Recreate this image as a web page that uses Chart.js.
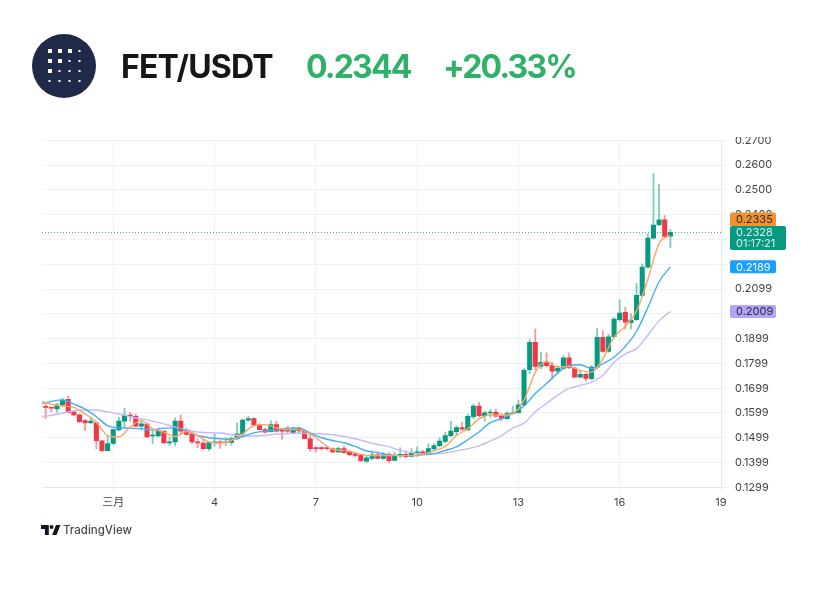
<!DOCTYPE html>
<html>
<head>
<meta charset="utf-8">
<title>FET/USDT</title>
<script src="https://cdn.jsdelivr.net/npm/chart.js@4/dist/chart.umd.min.js"></script>
<style>
  html, body { margin: 0; padding: 0; background: #fff; }
  body { position: relative; width: 832px; height: 608px; overflow: hidden; font-family: Inter, sans-serif; }
  canvas { position: absolute; left: 0; top: 0; }
  .head { position: absolute; top: 48px; line-height: 38px; font-size: 32px; font-weight: 700; white-space: nowrap; }
  .up { color: #2FB16A; letter-spacing: -1.8px; }
  #logo { position: absolute; left: 32px; top: 34px; }
  #tvMark { position: absolute; left: 41px; top: 525px; }
  #tvText { position: absolute; left: 63px; top: 522px; font-size: 11.5px; line-height: 16px; font-weight: 500; color: #4a4a4a; }
</style>
</head>
<body>
<canvas id="chart" width="832" height="608"></canvas>

<svg id="logo" width="64" height="64" viewBox="0 0 64 64">
  <circle cx="32" cy="32" r="32" fill="#1E2A47"/>
  <g fill="#fff">
    <rect x="16" y="15" width="4" height="4"/><rect x="26" y="15" width="4" height="4"/><rect x="36" y="15" width="4" height="4"/><rect x="46.5" y="16" width="2" height="2"/>
    <rect x="16" y="25" width="4" height="4"/><rect x="26" y="25" width="4" height="4"/><rect x="36.5" y="26" width="2" height="2"/><rect x="46.5" y="26" width="2" height="2"/>
    <rect x="16" y="35" width="4" height="4"/><rect x="26.5" y="36" width="2" height="2"/><rect x="36.5" y="36" width="2" height="2"/><rect x="46.5" y="36" width="2" height="2"/>
    <rect x="16.5" y="46" width="2" height="2"/><rect x="26.5" y="46" width="2" height="2"/><rect x="36.5" y="46" width="2" height="2"/><rect x="46.5" y="46" width="2" height="2"/>
  </g>
</svg>
<div class="head" style="left:121px;color:#161616;letter-spacing:-0.8px">FET/USDT</div>
<div class="head up" style="left:306px">0.2344</div>
<div class="head up" style="left:443px">+20.33%</div>

<svg id="tvMark" width="20" height="10" viewBox="0 0 36 18">
  <path fill="#131722" d="M14 18H7V7H0V0h14zM28 18h-8L27 0h8zM19 7a3.5 3.5 0 1 0 0-7 3.5 3.5 0 0 0 0 7z"/>
</svg>
<div id="tvText">TradingView</div>

<script>
// 4h candles, index 0 sits on the "三月" gridline
const firstCandle = -12;
const opens = [
  .1626,.1622,.1615,.1632,.1654,.1603,.1592,.1568,.1559,.1559,
  .1487,.1447,.1476,.1531,.1566,.1591,.1586,.1546,.1554,.1506,
  .1506,.1526,.1478,.1482,.1566,.1526,.1515,.1483,.1478,.1455,
  .1479,.1480,.1479,.1480,.1495,.1515,.1570,.1576,.1550,.1532,
  .1524,.1552,.1527,.1527,.1520,.1536,.1527,.1495,.1458,.1456,
  .1456,.1454,.1442,.1455,.1442,.1434,.1428,.1404,.1416,.1430,
  .1416,.1431,.1408,.1428,.1432,.1424,.1438,.1442,.1435,.1454,
  .1467,.1484,.1507,.1524,.1540,.1531,.1584,.1627,.1588,.1599,
  .1602,.1590,.1576,.1596,.1600,.1632,.1774,.1884,.1788,.1804,
  .1790,.1768,.1779,.1822,.1780,.1744,.1755,.1738,.1784,.1904,
  .1848,.1907,.1976,.2005,.1964,.1976,.2074,.2188,.2305,.2358,
  .2379,.2312
];
const highs = [
  .1635,.1624,.1638,.1659,.1667,.1608,.1595,.1572,.1579,.1562,
  .1488,.1508,.1535,.1582,.1619,.1602,.1595,.1571,.1558,.1528,
  .1538,.1528,.1502,.1578,.1592,.1538,.1522,.1495,.1488,.1484,
  .1515,.1488,.1499,.1502,.1559,.1575,.1586,.1579,.1555,.1539,
  .1568,.1566,.1535,.1544,.1542,.1542,.1531,.1515,.1462,.1462,
  .1462,.1458,.1462,.1464,.1448,.1438,.1432,.1424,.1446,.1442,
  .1439,.1439,.1442,.1458,.1446,.1455,.1462,.1448,.1475,.1475,
  .1499,.1522,.1566,.1548,.1562,.1595,.1635,.1642,.1608,.1615,
  .1615,.1598,.1604,.1627,.1651,.1778,.1895,.1938,.1844,.1842,
  .1804,.1790,.1831,.1842,.1784,.1768,.1760,.1791,.1940,.1931,
  .1918,.1984,.2056,.2027,.2000,.2123,.2201,.2322,.2566,.2522,
  .2396,.2341
];
const lows = [
  .1575,.1602,.1602,.1630,.1598,.1587,.1560,.1528,.1558,.1455,
  .1444,.1446,.1472,.1528,.1539,.1566,.1544,.1531,.1499,.1475,
  .1502,.1475,.1467,.1466,.1512,.1508,.1475,.1459,.1451,.1446,
  .1464,.1456,.1467,.1468,.1491,.1508,.1566,.1547,.1531,.1518,
  .1522,.1523,.1492,.1515,.1515,.1515,.1494,.1444,.1440,.1450,
  .1450,.1438,.1439,.1438,.1427,.1422,.1402,.1398,.1411,.1414,
  .1411,.1398,.1407,.1418,.1419,.1422,.1424,.1432,.1432,.1448,
  .1462,.1479,.1502,.1508,.1528,.1528,.1575,.1584,.1566,.1582,
  .1582,.1568,.1574,.1595,.1598,.1630,.1758,.1774,.1778,.1784,
  .1736,.1758,.1776,.1778,.1743,.1743,.1727,.1734,.1778,.1844,
  .1844,.1904,.1971,.1938,.1938,.1973,.2070,.2184,.2302,.2357,
  .2309,.2268
];
const closes = [
  .1622,.1618,.1632,.1651,.1600,.1591,.1564,.1559,.1566,.1487,
  .1447,.1476,.1532,.1566,.1591,.1586,.1546,.1555,.1502,.1507,
  .1526,.1478,.1483,.1566,.1526,.1512,.1482,.1478,.1455,.1480,
  .1482,.1479,.1483,.1496,.1515,.1570,.1576,.1550,.1532,.1522,
  .1552,.1526,.1526,.1526,.1535,.1527,.1495,.1455,.1455,.1455,
  .1455,.1442,.1455,.1439,.1431,.1428,.1407,.1418,.1430,.1416,
  .1430,.1407,.1428,.1430,.1423,.1439,.1440,.1436,.1455,.1467,
  .1486,.1508,.1526,.1540,.1534,.1586,.1627,.1588,.1600,.1602,
  .1586,.1576,.1598,.1600,.1632,.1771,.1884,.1787,.1804,.1790,
  .1768,.1779,.1822,.1782,.1744,.1755,.1739,.1784,.1904,.1848,
  .1907,.1978,.2002,.1966,.1974,.2074,.2188,.2305,.2358,.2379,
  .2312,.2328
];

// moving averages, read every second candle from index -13
const firstAvg = -13;
const avgOrange = [
  .1648,.1635,.1627,.1622,.1595,.1562,.1508,.1502,.1542,.1568,
  .1535,.1522,.1504,.1524,.1508,.1482,.1478,.1488,.1515,.1548,
  .1552,.1539,.1532,.1531,.1515,.1482,.1451,.1448,.1438,.1428,
  .1427,.1427,.1427,.1427,.1432,.1446,.1464,.1508,.1535,.1575,
  .1591,.1590,.1597,.1651,.1764,.1807,.1784,.1787,.1771,.1764,
  .1818,.1905,.1949,.2011,.2138,.2284,.2316
];
const avgBlue = [
  .1635,.1646,.1652,.1635,.1615,.1584,.1548,.1539,.1538,.1535,
  .1531,.1538,.1539,.1528,.1508,.1499,.1495,.1492,.1504,.1519,
  .1526,.1531,.1538,.1539,.1518,.1499,.1488,.1479,.1464,.1446,
  .1439,.1431,.1427,.1427,.1430,.1435,.1448,.1462,.1491,.1522,
  .1560,.1576,.1598,.1627,.1678,.1718,.1761,.1791,.1794,.1778,
  .1798,.1824,.1868,.1929,.2025,.2129,.2189
];
const avgPurple = [
  .1584,.1590,.1599,.1608,.1611,.1611,.1603,.1595,.1584,.1575,
  .1566,.1555,.1542,.1531,.1522,.1519,.1518,.1511,.1507,.1506,
  .1508,.1514,.1516,.1518,.1516,.1515,.1511,.1504,.1495,.1483,
  .1472,.1463,.1448,.1439,.1434,.1434,.1438,.1446,.1455,.1466,
  .1486,.1508,.1538,.1558,.1604,.1638,.1671,.1698,.1711,.1724,
  .1751,.1804,.1838,.1859,.1913,.1971,.2009
];

const xTickPos = [0, 18, 36, 54, 72, 90, 108];
const xTickLabels = ["三月", "4", "7", "10", "13", "16", "19"];
const yTicks = [.27, .26, .25, .24, .2299, .2199, .2099, .1999, .1899, .1799, .1699, .1599, .1499, .1399, .1299];
// these three sit fully behind the price tags
const yHidden = [.2299, .2199, .1999];
const lastPrice = 0.2328;
const countdown = "01:17:21";

const green = "#089981", red = "#F23645";
const candleCol = opens.map((o, i) => closes[i] >= o ? green : red);
const wickCol = opens.map((o, i) => closes[i] >= o ? "rgba(8,153,129,.5)" : "rgba(242,54,69,.5)");

function avgLine(values, color) {
  return {
    type: "line",
    data: values.map((v, i) => ({ x: firstAvg + i * 2, y: v })),
    borderColor: color,
    borderWidth: 1.4,
    pointRadius: 0,
    cubicInterpolationMode: "monotone",
    order: 1
  };
}

// price tags on the right axis, the orange one gets pushed up above the last price tag
const tagPlugin = {
  id: "tags",
  afterDraw(c) {
    const g = c.ctx, y = c.scales.y;
    g.save();
    // top of the axis is cut off in the widget
    g.fillStyle = "#fff";
    g.fillRect(725, 120, 70, 17);

    function tag(cy, w, h, bg, fg, text) {
      g.fillStyle = bg;
      g.beginPath();
      g.roundRect(730, cy - h / 2, w, h, 2);
      g.fill();
      g.fillStyle = fg;
      g.font = "11px Inter, sans-serif";
      g.textBaseline = "middle";
      g.fillText(text, 736, cy + 0.5);
    }
    const last = y.getPixelForValue(lastPrice);
    tag(y.getPixelForValue(.2189), 46, 13, "#189FFF", "#fff", "0.2189");
    tag(y.getPixelForValue(.2009), 46, 13, "#B4A3F6", "#2a2a3a", "0.2009");
    tag(last - 13, 46, 14, "#F2922E", "#2a2a2a", "0.2335");
    g.fillStyle = green;
    g.beginPath();
    g.roundRect(730, last - 6.5, 56, 24, 2);
    g.fill();
    g.fillStyle = "#D5F2EC";
    g.font = "11px Inter, sans-serif";
    g.textBaseline = "middle";
    g.fillText("0.2328", 736, last + 0.5);
    g.fillText(countdown, 736, last + 11.5);
    g.restore();
  }
};

new Chart(document.getElementById("chart"), {
  type: "bar",
  data: {
    datasets: [
      {
        data: opens.map((o, i) => ({ x: firstCandle + i, y: [lows[i], highs[i]] })),
        backgroundColor: wickCol,
        barThickness: 1.2,
        grouped: false,
        order: 3
      },
      {
        data: opens.map((o, i) => ({ x: firstCandle + i, y: [o, closes[i]] })),
        backgroundColor: candleCol,
        barThickness: 4.4,
        minBarLength: 1,
        grouped: false,
        order: 2
      },
      avgLine(avgOrange, "#F6A860"),
      avgLine(avgBlue, "#45ADF5"),
      avgLine(avgPurple, "#C6B9F8"),
      {
        type: "line",
        data: [{ x: -12.66, y: lastPrice }, { x: 108, y: lastPrice }],
        borderColor: "#2BA88F",
        borderWidth: 1,
        borderDash: [1, 2],
        pointRadius: 0,
        order: 4
      }
    ]
  },
  options: {
    responsive: false,
    animation: false,
    devicePixelRatio: 1,
    layout: { padding: { left: 42, top: 140.3, right: 0, bottom: 0 } },
    plugins: { legend: { display: false }, tooltip: { enabled: false } },
    scales: {
      x: {
        type: "linear",
        min: -12.66,
        max: 108,
        offset: false,
        afterBuildTicks(s) { s.ticks = xTickPos.map(v => ({ value: v })); },
        afterFit(s) { s.height = 120.7; },
        grid: { offset: false, color: "#EEF0F3", tickLength: 5, drawTicks: true },
        border: { color: "#E4E6EA" },
        ticks: {
          autoSkip: false,
          maxRotation: 0,
          padding: 4,
          color: "#444",
          font: { size: 11, family: "Inter, 'Noto Sans CJK SC', sans-serif" },
          callback: v => xTickLabels[xTickPos.indexOf(v)]
        }
      },
      y: {
        position: "right",
        min: .1299,
        max: .27,
        afterBuildTicks(s) { s.ticks = yTicks.map(v => ({ value: v })); },
        afterFit(s) { s.width = 111; },
        grid: { color: "#EEF0F3", tickLength: 6 },
        border: { color: "#E4E6EA" },
        ticks: {
          autoSkip: false,
          padding: 8,
          color: "#444",
          font: { size: 11, family: "Inter, sans-serif" },
          callback: v => yHidden.includes(v) ? "" : v.toFixed(4)
        }
      }
    }
  },
  plugins: [tagPlugin]
});
</script>
</body>
</html>
